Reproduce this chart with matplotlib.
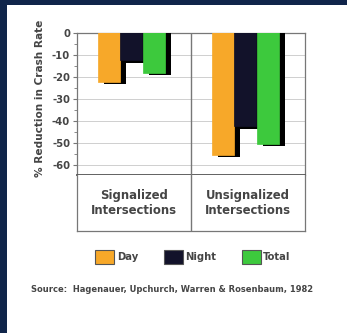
import matplotlib
matplotlib.use("Agg")
import matplotlib.pyplot as plt
import matplotlib.patheffects as pe
from matplotlib.patches import Rectangle
from matplotlib.ticker import MultipleLocator
import numpy as np

# Percent reduction in crash rate after lighting was installed
categories = ["Signalized\nIntersections", "Unsignalized\nIntersections"]
series_names = ["Day", "Night", "Total"]
day = [-22.3, -55.2]
night = [-12.4, -42.4]
total = [-18.2, -50.3]
yticks = [0, -10, -20, -30, -40, -50, -60]
source = "Source:  Hagenauer, Upchurch, Warren & Rosenbaum, 1982"

colors = {"Day": "#F7A829", "Night": "#12122A", "Total": "#3DC93D"}
navy = "#10254A"
text_gray = "#454545"
line_gray = "#777777"

W, H = 347, 333
fig = plt.figure(figsize=(W / 100, H / 100), dpi=100)
fig.patch.set_facecolor(navy)
# white slide area
fig.add_artist(Rectangle((7 / W, 0), 1, 1 - 5 / H, transform=fig.transFigure,
                         facecolor="white", edgecolor="none", zorder=0))

ax_l, ax_r = 77 / W, 305 / W
ax = fig.add_axes([ax_l, 1 - 175 / H, ax_r - ax_l, (175 - 33) / H])
ax.set_xlim(0, 2)
ax.set_ylim(-64.5, 0)

bar_w = 0.195
offsets = [-0.22, -0.025, 0.175]
lift = 2.0  # bars start above the clipped top edge so their shadows reach it
shadow = [pe.SimplePatchShadow(offset=(4.2, -1.6), shadow_rgbFace="black", alpha=1.0),
          pe.Normal()]
x = np.arange(len(categories)) + 0.5
handles = []
for name, vals, off in zip(series_names, [day, night, total], offsets):
    vals = np.asarray(vals)
    bars = ax.bar(x + off, vals - lift, bottom=lift, width=bar_w,
                  color=colors[name], edgecolor=colors[name], linewidth=0.5,
                  zorder=3, label=name)
    for b in bars:
        b.set_path_effects(shadow)
    handles.append(Rectangle((0, 0), 1, 1, facecolor=colors[name],
                             edgecolor="#555555", linewidth=0.8))

ax.set_yticks(yticks)
ax.set_yticklabels([str(v) for v in yticks])
ax.yaxis.set_minor_locator(MultipleLocator(5))
ax.set_xticks([])
ax.tick_params(axis="y", which="major", direction="out", length=3, width=0.8,
               color=line_gray, labelsize=7.2, labelcolor=text_gray, pad=2)
ax.tick_params(axis="y", which="minor", direction="out", length=2, width=0.6,
               color=line_gray)
for lbl in ax.get_yticklabels():
    lbl.set_fontweight("bold")
ax.grid(axis="y", color="#cfcfcf", linewidth=0.7, zorder=0)
ax.axvline(1, color=line_gray, linewidth=1.0, zorder=4)
for s in ["left", "right", "top"]:
    ax.spines[s].set_color(line_gray)
    ax.spines[s].set_linewidth(0.9)
ax.spines["bottom"].set_color("#555555")
ax.spines["bottom"].set_linewidth(1.3)
ax.set_ylabel("% Reduction in Crash Rate", fontsize=7.6, fontweight="bold",
              color=text_gray)
ax.yaxis.set_label_coords(-0.14, 0.54)

# category box under the bars
cax = fig.add_axes([ax_l, 1 - 231 / H, ax_r - ax_l, (231 - 175) / H])
cax.set_xlim(0, 2)
cax.set_ylim(0, 1)
cax.set_xticks([])
cax.set_yticks([])
cax.axvline(1, color=line_gray, linewidth=1.0)
for s in cax.spines.values():
    s.set_color(line_gray)
    s.set_linewidth(0.9)
cax.spines["top"].set_visible(False)
for xi, cat in zip(x, categories):
    cax.text(xi, 0.5, cat, ha="center", va="center", fontsize=8.4,
             fontweight="bold", color=text_gray, linespacing=1.1)

fig.legend(handles=handles, labels=series_names, loc="center",
           bbox_to_anchor=(0.556, 1 - 257 / H), ncol=3, frameon=False,
           handlelength=1.9, handleheight=1.9, handletextpad=0.25,
           columnspacing=2.55, prop={"size": 7.2, "weight": "bold"},
           labelcolor=text_gray)

fig.text(0.496, 1 - 289 / H, source, ha="center", va="center", fontsize=6.0,
         fontweight="bold", color=text_gray)

fig.savefig("out.png", dpi=100, facecolor=fig.get_facecolor())
